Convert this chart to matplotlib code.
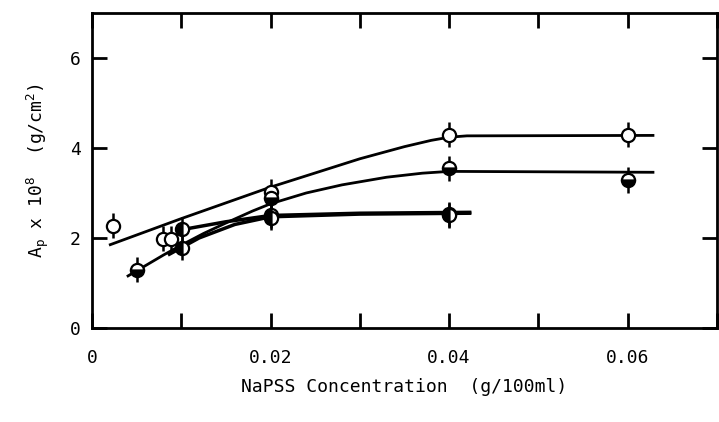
import matplotlib
matplotlib.use("Agg")
import matplotlib.pyplot as plt

# --- data ---
# series 1: open circles
s1_x = [0.0024, 0.0079, 0.0088, 0.02, 0.04, 0.06]
s1_y = [2.27, 1.98, 1.98, 3.03, 4.30, 4.30]
# series 2: bottom-half filled circles
s2_x = [0.005, 0.02, 0.04, 0.06]
s2_y = [1.29, 2.89, 3.55, 3.29]
# series 3: left-half filled circles (upper branch)
s3_x = [0.0101, 0.02, 0.04]
s3_y = [2.19, 2.50, 2.53]
# series 4: left-half filled circles (lower branch)
s4_x = [0.0101, 0.02, 0.04]
s4_y = [1.78, 2.45, 2.50]
err = 0.28

# hand-drawn fit curves
c1_x = [0.0019, 0.010, 0.020, 0.030, 0.035, 0.038, 0.040, 0.042, 0.063]
c1_y = [1.84, 2.43, 3.13, 3.76, 4.03, 4.17, 4.24, 4.27, 4.28]
c2_x = [0.0039, 0.008, 0.010, 0.0125, 0.0153, 0.018, 0.020, 0.024, 0.028, 0.033, 0.037, 0.040, 0.063]
c2_y = [1.14, 1.62, 1.84, 2.10, 2.36, 2.60, 2.76, 3.00, 3.18, 3.35, 3.44, 3.48, 3.46]
c3_x = [0.0105, 0.015, 0.020, 0.030, 0.0425]
c3_y = [2.20, 2.36, 2.50, 2.55, 2.57]
c4_x = [0.0085, 0.012, 0.016, 0.020, 0.030, 0.0425]
c4_y = [1.62, 2.00, 2.30, 2.47, 2.53, 2.55]

xticks = [0, 0.01, 0.02, 0.03, 0.04, 0.05, 0.06, 0.07]
xtick_labels = ["0", "", "0.02", "", "0.04", "", "0.06", ""]
yticks = [0, 2, 4, 6]
ytick_labels = ["0", "2", "4", "6"]

plt.rcParams['font.family'] = ['DejaVu Sans Mono']

fig = plt.figure(figsize=(7.19, 4.22), dpi=100)
ax = fig.add_axes([0.128, 0.223, 0.869, 0.746])

lw = 2.0
for cx, cy, w in [(c1_x, c1_y, lw), (c2_x, c2_y, lw), (c3_x, c3_y, lw + 0.5), (c4_x, c4_y, lw + 0.5)]:
    ax.plot(cx, cy, color='black', lw=w, solid_capstyle='butt', zorder=2)

ms = 9.5
common = dict(color='black', ecolor='black', elinewidth=1.8, capsize=0, ls='none',
              marker='o', ms=ms, mec='black', mew=1.6, zorder=3)
ax.errorbar(s1_x, s1_y, yerr=err, mfc='white', **common)
ax.errorbar(s2_x, s2_y, yerr=err, mfc='black', fillstyle='bottom', markerfacecoloralt='white', **common)
ax.errorbar(s3_x, s3_y, yerr=err, mfc='black', fillstyle='left', markerfacecoloralt='white', **common)
ax.errorbar(s4_x, s4_y, yerr=err, mfc='black', fillstyle='left', markerfacecoloralt='white', **common)

ax.set_xlim(0, 0.07)
ax.set_ylim(0, 7)
ax.set_xticks(xticks)
ax.set_xticklabels(xtick_labels)
ax.set_yticks(yticks)
ax.set_yticklabels(ytick_labels)
ax.tick_params(direction='in', length=11, width=2, labelsize=13,
               top=True, right=True)
ax.tick_params(axis='x', pad=15)
ax.tick_params(axis='y', pad=8)
for s in ax.spines.values():
    s.set_linewidth(2)

ax.set_xlabel("NaPSS Concentration  (g/100ml)", fontsize=13, labelpad=8)
ax.set_ylabel(r"A$_\mathregular{p}$ x 10$^\mathregular{8}$  (g/cm$^\mathregular{2}$)",
              fontsize=13, labelpad=14)

fig.savefig("out.png", dpi=100)
